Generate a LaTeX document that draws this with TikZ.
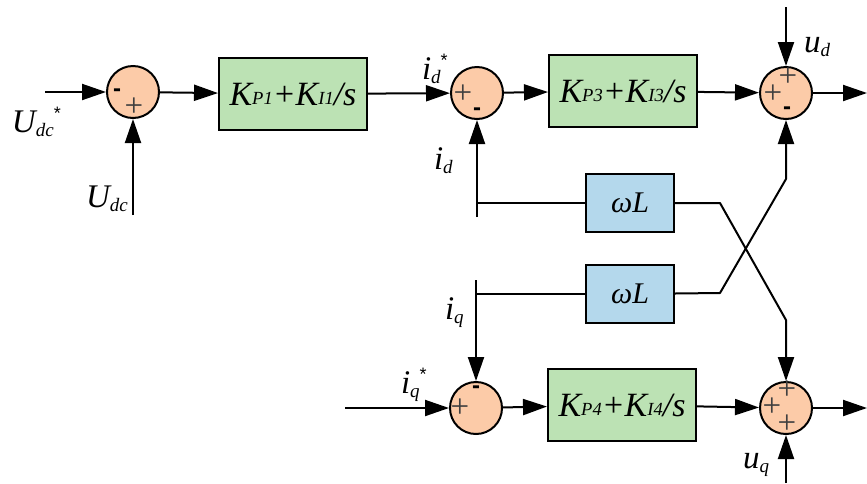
\documentclass[tikz,border=0pt]{standalone}
\usepackage{fontspec}
\setmainfont{Liberation Serif}
\newfontfamily\signfont{Liberation Sans}
\usetikzlibrary{arrows.meta}
\definecolor{peach}{RGB}{252,203,168}
\definecolor{pigreen}{RGB}{188,226,180}
\definecolor{wlblue}{RGB}{180,216,236}
\newcommand{\bsub}[1]{\raisebox{1pt}{\fontsize{18.5}{18.5}\selectfont\itshape #1}}
\newcommand{\sbs}[1]{\raisebox{-4pt}{\fontsize{19}{19}\selectfont\itshape #1}}
\newcommand{\strm}{\raisebox{13pt}{\fontsize{18}{18}\selectfont\upshape\signfont *}}
\begin{document}
\begin{tikzpicture}[x=1pt,y=-1pt,
  line width=2pt,
  sumnode/.style={circle,draw,fill=peach,minimum size=52pt,inner sep=0pt},
  pibox/.style={draw,fill=pigreen,minimum width=148pt,minimum height=72pt,inner sep=0pt,font=\fontsize{34}{36}\selectfont\itshape},
  wlbox/.style={draw,fill=wlblue,minimum width=88pt,minimum height=58pt,inner sep=0pt,font=\fontsize{30}{32}\selectfont\itshape},
  lbl/.style={inner sep=0pt,font=\fontsize{33}{35}\selectfont\itshape},
  plus/.style={inner sep=0pt,text=black!75,font=\fontsize{33}{33}\selectfont},
  minus/.style={inner sep=0pt,font=\fontsize{24}{24}\selectfont\signfont\bfseries},
  arr/.style={-{Triangle[length=24pt,width=16pt]}},
  wire/.style={line cap=butt}]
\useasboundingbox (0,0) rectangle (867,483);

% sum junctions
\node[sumnode] (s1) at (133,92) {};
\node[sumnode] (s2) at (477,93) {};
\node[sumnode] (s3) at (786,93) {};
\node[sumnode] (s4) at (476,408) {};
\node[sumnode] (s5) at (786,408) {};

% blocks
\node[pibox] (b1) at (293,94) {K\bsub{P1}+K\bsub{I1}/s};
\node[pibox] (b3) at (623,91) {K\bsub{P3}+K\bsub{I3}/s};
\node[pibox] (b4) at (622,405) {K\bsub{P4}+K\bsub{I4}/s};
\node[wlbox] (w1) at (630,203) {ωL};
\node[wlbox] (w2) at (630,294) {ωL};

% signs
\node[minus] at (117,93) {-};
\node[plus] at (134,107) {+};
\node[plus] at (463,94) {+};
\node[minus] at (477,112) {-};
\node[plus] at (773,94) {+};
\node[plus] at (788,77) {+};
\node[minus] at (787,111) {-};
\node[plus] at (460,408) {+};
\node[minus] at (476,390) {-};
\node[plus] at (772,407) {+};
\node[plus] at (787,390) {+};
\node[plus] at (787,424) {+};

% coordinates for free ends
\coordinate (udcs) at (45,92);
\coordinate (udc) at (133,215);
\coordinate (ud) at (786,7);
\coordinate (uq) at (786,483);
\coordinate (o3) at (867,93);
\coordinate (o5) at (867,408);
\coordinate (iqs) at (345,408);
\coordinate (idb) at (477,217);
\coordinate (idj) at (477,203);
\coordinate (iqt) at (476,280);
\coordinate (iqj) at (476,294);
\coordinate (w1k) at (720,203);
\coordinate (w2k) at (720,293);
\coordinate (s3k) at (786,179);
\coordinate (s5k) at (786,320);

% connectors
\draw[arr] (udcs) -- (s1);
\draw[arr] (udc) -- (s1);
\draw[arr] (s1) -- (b1);
\draw[arr] (b1) -- (s2);
\draw[arr] (s2) -- (b3);
\draw[arr] (b3) -- (s3);
\draw[arr] (ud) -- (s3);
\draw[arr] (s3) -- (o3);
\draw[arr] (idb) -- (s2);
\draw[wire] (idj) -- (w1);
\draw[arr] (iqt) -- (s4);
\draw[wire] (iqj) -- (w2);
\draw[arr] (iqs) -- (s4);
\draw[arr] (s4) -- (b4);
\draw[arr] (b4) -- (s5);
\draw[arr] (s5) -- (o5);
\draw[arr] (uq) -- (s5);
\draw[arr,line join=round] (w1) -- (w1k) -- (s5k) -- (s5);
\draw[arr,line join=round] (w2) -- (w2k) -- (s3k) -- (s3);

% labels
\node[lbl,anchor=base west] at (11,132) {U\sbs{dc}\strm};
\node[lbl,anchor=base west] at (85,207) {U\sbs{dc}};
\node[lbl,anchor=base west] at (421,79) {i\sbs{d}\strm};
\node[lbl,anchor=base west] at (433,169) {i\sbs{d}};
\node[lbl,anchor=base west] at (803,52) {u\sbs{d}};
\node[lbl,anchor=base west] at (444,319) {i\sbs{q}};
\node[lbl,anchor=base west] at (400,393) {i\sbs{q}\strm};
\node[lbl,anchor=base west] at (742,468) {u\sbs{q}};
\end{tikzpicture}
\end{document}
